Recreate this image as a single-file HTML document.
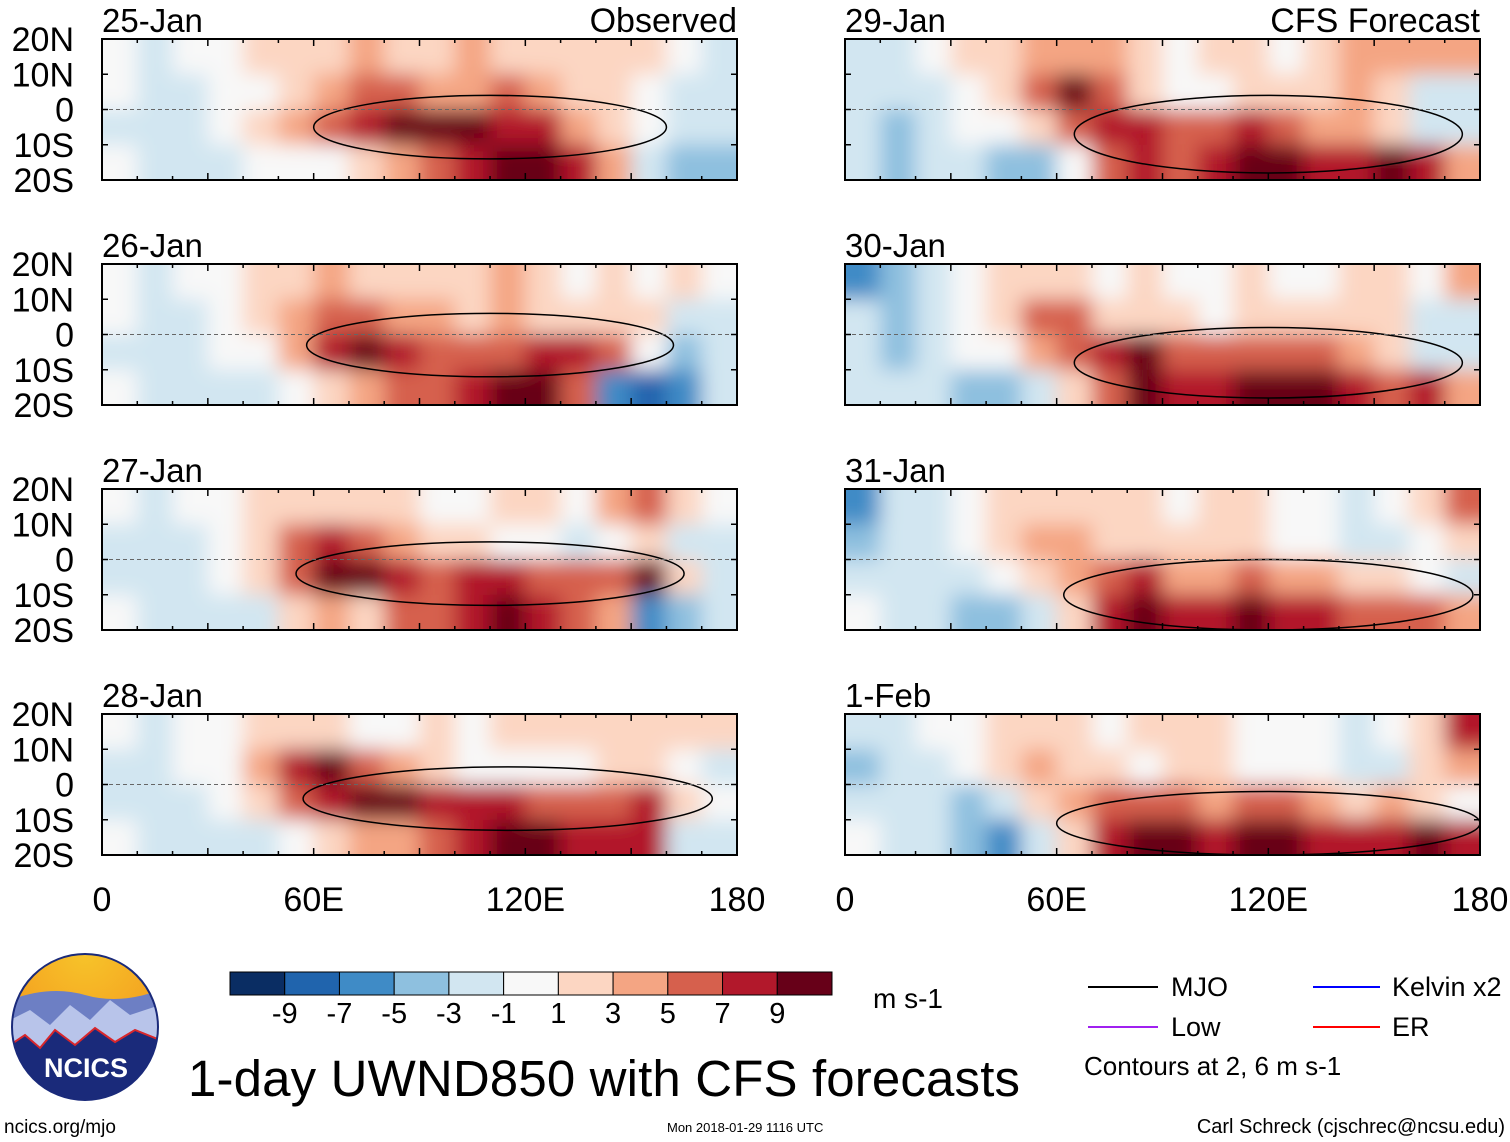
<!DOCTYPE html>
<html><head><meta charset="utf-8">
<style>
body{margin:0;background:#fff;}
svg{display:block;font-family:"Liberation Sans",sans-serif;}
</style></head>
<body>
<svg id="chart" width="1510" height="1142" viewBox="0 0 1510 1142">
<defs>
<filter id="blur" x="-10%" y="-40%" width="120%" height="180%"><feGaussianBlur stdDeviation="10"/></filter>
<radialGradient id="logoSky" cx="50%" cy="0%" r="70%"><stop offset="0" stop-color="#f7c42a"/><stop offset="1" stop-color="#f39a1e"/></radialGradient>
</defs>
<g id="panels"></g>
<g id="colorbar"></g>
<text x="873" y="1008" font-size="28">m s-1</text>
<g>
<clipPath id="logoClip"><circle cx="85" cy="1027" r="73"/></clipPath>
<g clip-path="url(#logoClip)">
<rect x="10" y="952" width="150" height="150" fill="url(#logoSky)"/>
<path d="M10 1000 Q50 985 85 995 T160 990 L160 1102 L10 1102Z" fill="#6d7fc4"/>
<path d="M10 1020 L30 1010 L50 1025 L70 1005 L90 1020 L110 1000 L130 1015 L160 1005 L160 1102 L10 1102Z" fill="#b8c4ea"/>
<path d="M10 1045 L25 1035 L40 1048 L55 1030 L75 1045 L95 1028 L115 1042 L135 1030 L160 1040 L160 1102 L10 1102Z" fill="#1a2a7a"/>
<path d="M10 1045 L25 1035 L40 1048 L55 1030 L75 1045 L95 1028 L115 1042 L135 1030 L160 1040" fill="none" stroke="#d8262b" stroke-width="2"/>
</g>
<circle cx="85" cy="1027" r="73" fill="none" stroke="#1a2a7a" stroke-width="2"/>
<text x="86" y="1077" font-size="27" font-weight="bold" fill="#fff" text-anchor="middle">NCICS</text>
</g>
<text x="188" y="1096" font-size="51" textLength="832">1-day UWND850 with CFS forecasts</text>
<text x="4" y="1133" font-size="19">ncics.org/mjo</text>
<text x="667" y="1132" font-size="13">Mon 2018-01-29 1116 UTC</text>
<text x="1505" y="1133" font-size="20" text-anchor="end">Carl Schreck (cjschrec@ncsu.edu)</text>
<g>
<line x1="1088" y1="987" x2="1158" y2="987" stroke="#000" stroke-width="2"/>
<text x="1171" y="996" font-size="27">MJO</text>
<line x1="1088" y1="1027" x2="1158" y2="1027" stroke="#a020f0" stroke-width="2"/>
<text x="1171" y="1036" font-size="27">Low</text>
<line x1="1313" y1="987" x2="1380" y2="987" stroke="#0000ff" stroke-width="2"/>
<text x="1392" y="996" font-size="27">Kelvin x2</text>
<line x1="1313" y1="1027" x2="1380" y2="1027" stroke="#ff0000" stroke-width="2"/>
<text x="1392" y="1036" font-size="27">ER</text>
<text x="1084" y="1075" font-size="26">Contours at 2, 6 m s-1</text>
</g>
</svg>
<script>
const panelTitles=["25-Jan","26-Jan","27-Jan","28-Jan","29-Jan","30-Jan","31-Jan","1-Feb"];
const latLabels=["20N","10N","0","10S","20S"];
const lonLabels=["0","60E","120E","180"];
const colorLevels=[-9,-7,-5,-3,-1,1,3,5,7,9];
const colors=["#0a2d63","#2064ad","#3f8bc6","#8ec0df","#d2e6f1","#f8f8f8","#fcd6c2","#f4a583","#d6604d","#b2182b","#670018"];
const p1=[[-1,-2,-1,0,1,2,2,3,1,2,3,2,1,2,2,1,0,-2],[-1,-2,-2,-1,0,2,4,6,5,4,4,6,3,2,1,-1,-2,-3],[-2,-2,-2,0,1,3,6,8,9,9,9,8,7,4,2,0,-2,-3],[-1,-3,-2,-2,-1,-1,0,2,4,6,8,9,9,7,3,-2,-5,-4]];
const p2=[[0,-2,-1,0,1,2,3,2,1,2,2,3,1,0,1,-1,2,0],[-1,-2,-3,-1,1,3,6,5,4,3,2,3,2,1,2,1,-3,-3],[-2,-3,-2,-1,0,4,8,9,8,6,5,6,7,8,6,0,-4,-3],[-1,-2,-3,-3,-2,0,2,3,5,6,8,9,9,5,-6,-9,-6,-2]];
const p3=[[-1,-2,0,-1,1,2,2,1,1,-1,0,2,1,0,3,6,2,-1],[-2,-3,-2,-1,2,5,8,6,4,2,1,-1,0,-2,-1,1,-2,-3],[-2,-3,-2,0,2,6,9,9,8,6,7,8,6,5,6,9,2,-2],[-1,-2,-2,-3,-2,1,3,2,5,6,7,9,8,6,4,-6,-4,-2]];
const p4=[[-1,-2,-1,0,1,1,2,-1,0,1,0,2,1,1,2,1,1,2],[-2,-3,-1,0,3,8,9,5,3,1,0,-1,-1,0,2,1,-1,-3],[-2,-3,-2,-1,1,6,8,9,9,8,8,7,6,5,5,8,2,-1],[-1,-2,-3,-2,-2,0,2,3,4,5,7,9,9,8,7,8,-3,-2]];
const p5=[[-3,-2,0,1,2,3,4,3,2,-1,1,2,-1,2,4,4,3,3],[-2,-3,-2,0,2,6,9,5,2,-1,-1,2,1,2,3,1,-2,-3],[-3,-4,-2,-1,0,2,5,8,8,6,5,7,6,4,3,1,-2,-3],[-3,-5,-3,-2,-4,-5,0,5,8,6,7,9,9,8,7,9,8,3]];
const p6=[[-7,-4,-2,-1,1,2,1,0,1,0,-1,1,0,-1,1,2,0,3],[-3,-4,-3,-1,2,6,5,2,2,1,0,2,1,1,2,1,-2,-3],[-2,-4,-3,-1,0,3,6,8,9,6,5,6,6,5,3,1,-3,-3],[-2,-3,-3,-4,-5,-3,1,5,9,7,8,9,9,9,8,6,7,3]];
const p7=[[-6,-3,-2,0,1,2,2,1,1,0,2,1,-1,0,-2,-1,2,5],[-4,-3,-2,-1,2,3,3,1,2,1,2,1,0,-1,-2,-3,-1,1],[-2,-3,-3,-2,-1,2,4,6,7,4,3,5,4,3,2,2,-1,-2],[-1,-2,-3,-5,-4,-2,2,7,9,8,7,9,8,8,6,6,5,4]];
const p8=[[-3,-2,-1,0,1,1,1,0,2,1,2,0,-1,-1,-2,-1,2,8],[-4,-3,-2,-1,2,3,2,1,0,1,2,0,-1,-1,-2,-2,2,3],[-2,-3,-3,-4,-2,1,3,5,6,5,4,6,5,3,2,3,2,-1],[-1,-2,-3,-4,-7,-3,1,7,9,9,8,9,9,8,7,8,9,7]];
const panelData=[p1,p2,p3,p4,p5,p6,p7,p8];
const mjoLon=[110,110,110,115,120,120,120,120];
const mjoLat=[-5,-3,-4,-4,-7,-8,-10,-11];
const mjoHalfLon=[50,52,55,58,55,55,58,60];
const mjoHalfLat=[9,9,9,9,11,10,10,9];

const NS="http://www.w3.org/2000/svg";
function mk(tag,attrs,parent){const e=document.createElementNS(NS,tag);for(const k in attrs)e.setAttribute(k,attrs[k]);parent.appendChild(e);return e;}
function colorFor(v){let i=0;while(i<colorLevels.length&&v>=colorLevels[i])i++;return colors[i];}
const colX=[102,845],rowY=[39,264,489,714],PW=635,PH=141;
const panelsG=document.getElementById('panels');
panelData.forEach((data,pi)=>{
  const c=pi<4?0:1,r=pi%4,x0=colX[c],y0=rowY[r];
  const xs=lon=>x0+lon/180*PW, ys=lat=>y0+(20-lat)/40*PH;
  const g=mk('g',{},panelsG);
  
  
  const cid='clip'+pi;
  const cp=mk('clipPath',{id:cid},g);mk('rect',{x:x0,y:y0,width:PW,height:PH},cp);
  const hg=mk('g',{'clip-path':'url(#'+cid+')'},g);
  const inner=mk('g',{filter:'url(#blur)'},hg);
  data.forEach((row,ri)=>{row.forEach((v,ci)=>{
    let xa=xs(ci*10),xb=xs(ci*10+10),ya=ys(20-ri*10),yb=ys(10-ri*10);
    if(ci===0)xa-=40;if(ci===row.length-1)xb+=40;if(ri===0)ya-=40;if(ri===data.length-1)yb+=40;
    const cell=mk('rect',{x:xa,y:ya,width:xb-xa+0.5,height:yb-ya+0.5,fill:colorFor(v)},inner);
    
    
  });});
  const mjo=mk('ellipse',{cx:xs(mjoLon[pi]),cy:ys(mjoLat[pi]),rx:mjoHalfLon[pi]/180*PW,ry:mjoHalfLat[pi]/40*PH,fill:'none',stroke:'#000','stroke-width':1.5},hg);
  
  
  const eq=mk('line',{x1:x0,x2:x0+PW,y1:ys(0),y2:ys(0),stroke:'#666','stroke-dasharray':'4 3','stroke-width':1},g);
  
  
  const fr=mk('rect',{x:x0,y:y0,width:PW,height:PH,fill:'none',stroke:'#000','stroke-width':2},g);
  
  
  for(let lon=0;lon<=180;lon+=10){const L=lon%30===0?7:4;
    mk('line',{x1:xs(lon),x2:xs(lon),y1:y0,y2:y0+L,stroke:'#000','stroke-width':1.5},g);
    mk('line',{x1:xs(lon),x2:xs(lon),y1:y0+PH,y2:y0+PH-L,stroke:'#000','stroke-width':1.5},g);}
  for(let lat=-20;lat<=20;lat+=10){mk('line',{x1:x0,x2:x0+6,y1:ys(lat),y2:ys(lat),stroke:'#000','stroke-width':1.5},g);
    mk('line',{x1:x0+PW,x2:x0+PW-6,y1:ys(lat),y2:ys(lat),stroke:'#000','stroke-width':1.5},g);}
  const t=mk('text',{x:x0,y:y0-7,'font-size':33},g);t.textContent=panelTitles[pi];
  
  
  if(r===0){const h=mk('text',{x:x0+PW,y:y0-7,'font-size':34,'text-anchor':'end'},g);h.textContent=c===0?'Observed':'CFS Forecast';
    
    }
  if(c===0){latLabels.forEach((lb,i)=>{const tl=mk('text',{x:74,y:ys(20-i*10)+12,'font-size':34,'text-anchor':'end'},g);tl.textContent=lb;
    
    });}
  if(r===3){lonLabels.forEach((lb,i)=>{const tl=mk('text',{x:xs(i*60),y:911,'font-size':34,'text-anchor':'middle'},g);tl.textContent=lb;
    
    });}
});
const cb=document.getElementById('colorbar');
const bx=230,bw=602/11;
colors.forEach((col,i)=>{const rc=mk('rect',{x:bx+i*bw,y:972,width:bw,height:23,fill:col,stroke:'#000','stroke-width':1},cb);
  
  });
colorLevels.forEach((lv,i)=>{const tl=mk('text',{x:bx+(i+1)*bw,y:1023,'font-size':29,'text-anchor':'middle'},cb);tl.textContent=lv;
  
  });
</script>
</body></html>
